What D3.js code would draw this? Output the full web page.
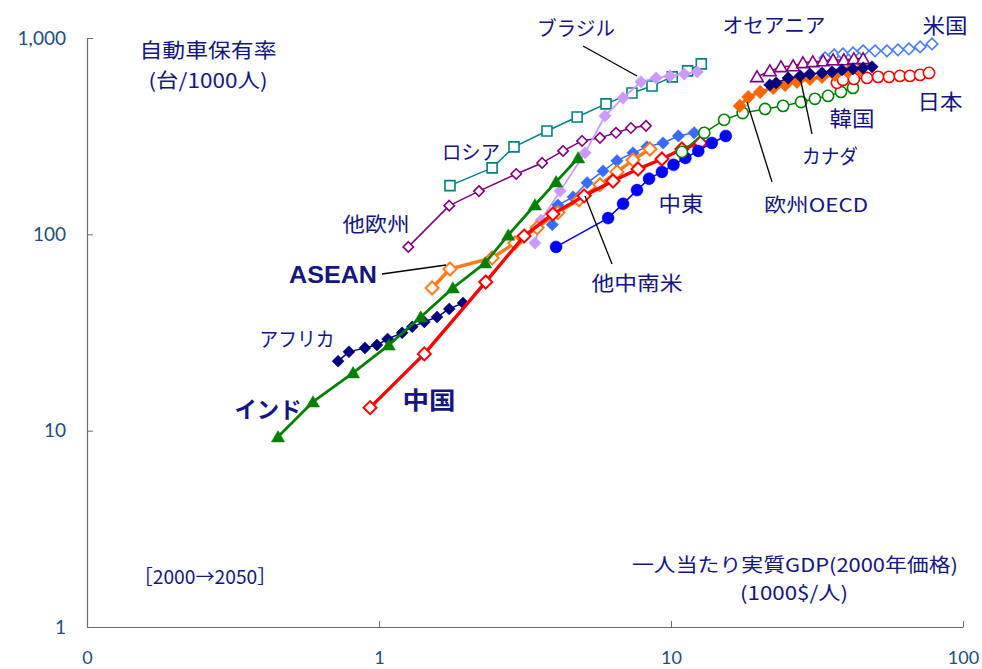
<!DOCTYPE html>
<html lang="ja">
<head>
<meta charset="utf-8">
<script src="https://cdn.jsdelivr.net/npm/d3@7"></script>
<style>
  html, body { margin: 0; padding: 0; background: #fff; }
  svg { display: block; }
</style>
</head>
<body>
<svg id="chart" width="982" height="669"></svg>
<script>
// Per-capita real GDP (1000 $/person, 2000 prices) vs. cars per 1000 people, 2000 → 2050 (5-year steps)
const years = [2000, 2005, 2010, 2015, 2020, 2025, 2030, 2035, 2040, 2045, 2050];

const india = [[0.451, 9.3], [0.594, 14.0], [0.815, 19.7], [1.08, 27.3], [1.39, 37.9], [1.79, 53.3],
               [2.31, 71.5], [2.77, 99], [3.42, 141], [4.04, 185], [4.81, 245]];
const china = [[0.932, 13.1], [1.43, 24.6], [2.32, 57.2], [3.14, 98], [3.94, 127], [5.04, 157],
               [6.33, 187], [7.71, 215], [9.31, 242], [10.9, 272], [12.6, 292]];
const asean = [[1.52, 53.3], [1.75, 66.6], [2.44, 75.8], [2.92, 90.4], [3.48, 108], [4.10, 129],
               [4.84, 150], [5.71, 179], [6.53, 208], [7.41, 239], [8.47, 272]];
const africa = [[0.724, 22.6], [0.789, 25.2], [0.895, 26.4], [0.984, 27.3], [1.07, 29.3], [1.20, 31.5],
                [1.30, 33.8], [1.43, 35.8], [1.58, 37.9], [1.74, 41.7], [1.94, 44.7]];
const otherEurope = [[1.26, 86.3], [1.74, 140], [2.20, 166], [2.95, 203], [3.62, 231], [4.27, 266],
                     [4.96, 299], [5.71, 310], [6.48, 329], [7.29, 348], [8.21, 357]];
const russia = [[1.75, 177], [2.44, 218], [2.90, 279], [3.76, 336], [4.77, 396], [5.99, 462],
                [7.35, 525], [8.61, 570], [10.1, 634], [11.4, 680], [12.7, 738]];
const brazil = [[3.42, 90.4], [3.59, 118], [4.17, 166], [5.08, 260], [5.94, 401], [6.85, 495],
                [7.89, 598], [8.89, 626], [9.93, 641], [11.1, 656], [12.3, 672]];
const otherLatAm = [[3.92, 112], [4.10, 141], [4.62, 155], [5.16, 183], [5.85, 210], [6.53, 237],
                    [7.41, 260], [8.27, 279], [9.39, 292], [10.6, 317], [12.0, 329]];
const middleEast = [[4.04, 86.3], [6.09, 121], [6.85, 143], [7.65, 168], [8.41, 192], [9.31, 208],
                    [10.2, 226], [11.2, 245], [12.4, 266], [13.8, 292], [15.4, 317]];
const korea = [[10.9, 263], [13.0, 329], [15.2, 383], [17.6, 415], [21.0, 435], [24.2, 451],
               [27.9, 472], [31.1, 490], [34.5, 507], [38.2, 531], [42.0, 557]];
const oecdEurope = [[17.2, 451], [18.4, 501], [20.2, 531], [22.4, 557], [24.6, 577], [27.0, 598],
                    [29.9, 619], [32.9, 634], [36.4, 649], [40.4, 672], [44.4, 688]];
const canada = [[21.8, 577], [22.9, 591], [25.2, 626], [27.7, 641], [29.9, 656], [32.9, 664],
                [35.6, 672], [38.5, 688], [42.0, 696], [45.5, 704], [48.8, 713]];
const oceania = [[19.7, 634], [21.8, 680], [23.8, 713], [26.2, 721], [28.3, 747], [30.6, 756],
                 [33.2, 764], [35.9, 773], [39.1, 773], [42.3, 783], [45.5, 783]];
const usa = [[33.7, 792], [36.2, 820], [38.8, 829], [42.0, 839], [45.5, 860], [50.0, 860],
             [54.9, 860], [59.9, 870], [65.3, 880], [71.3, 901], [78.3, 933]];
const japan = [[37.0, 591], [38.8, 612], [42.3, 619], [46.9, 626], [51.2, 634], [55.8, 634],
               [60.8, 641], [65.8, 641], [71.3, 649], [76.5, 664]];

const xTicks = [0.1, 1, 10, 100];
const xTickLabels = ["0", "1", "10", "100"];
const yTicks = [1, 10, 100, 1000];
const yTickLabels = ["1", "10", "100", "1,000"];

// ---- drawing setup ----
const svg = d3.select("#chart");
const W = 982, H = 669;
const margin = { left: 87, right: 19, top: 38, bottom: 42 };

const x = d3.scaleLog().domain([0.1, 100]).range([margin.left, W - margin.right]);
const y = d3.scaleLog().domain([1, 1000]).range([H - margin.bottom, margin.top]);

const JP = "'Noto Sans CJK JP', 'Noto Sans', sans-serif";
const NAVY_TEXT = "#15157f";

// axes
const xAxis = d3.axisBottom(x)
  .tickValues(xTicks)
  .tickFormat((d, i) => xTickLabels[i])
  .tickSizeInner(-6).tickSizeOuter(0).tickPadding(24);
const yAxis = d3.axisLeft(y)
  .tickValues(yTicks)
  .tickFormat((d, i) => yTickLabels[i])
  .tickSizeInner(-6).tickSizeOuter(0).tickPadding(21);

function styleAxis(g, size) {
  g.select(".domain").attr("stroke", "#6b6b6b").attr("stroke-width", 1.2);
  g.selectAll(".tick line").attr("stroke", "#6b6b6b").attr("stroke-width", 1);
  g.selectAll(".tick text")
    .attr("fill", "#1f4e79")
    .style("font-family", "Lato, 'Open Sans', sans-serif")
    .style("font-size", size + "px");
}

svg.append("g").attr("transform", `translate(0,${y(1)})`).call(xAxis).call(styleAxis, 18);
svg.append("g").attr("transform", `translate(${x(0.1)},0)`).call(yAxis).call(styleAxis, 19);

// marker shapes
const diamond = r => `M0,${-r}L${r},0L0,${r}L${-r},0Z`;
const triangle = r => `M0,${-r}L${r * 1.05},${r * 0.8}L${-r * 1.05},${r * 0.8}Z`;
const square = r => `M${-r},${-r}H${r}V${r}H${-r}Z`;

// series styles, in drawing order (later ones on top)
const series = [
  { data: otherEurope, color: "#800080", width: 1.5, shape: "diamond", r: 5.2, open: true },
  { data: russia, color: "#008080", width: 1.5, shape: "square", r: 5, open: true },
  { data: brazil, color: "#cc99ff", width: 1.8, shape: "diamond", r: 6.2, open: false },
  { data: africa, color: "#000080", width: 1.5, shape: "diamond", r: 6, open: false },
  { data: otherLatAm, color: "#3a6bff", width: 1.5, shape: "diamond", r: 6.2, open: false },
  { data: asean, color: "#ff7a1a", width: 3.4, shape: "diamond", r: 6.5, open: true },
  { data: china, color: "#ff0000", width: 3.4, shape: "diamond", r: 6.5, open: true },
  { data: india, color: "#008000", width: 2.8, shape: "triangle", r: 6.3, open: false },
  { data: middleEast, color: "#0000ff", width: 1.5, shape: "circle", r: 6, open: false },
  { data: korea, color: "#008000", width: 1.5, shape: "circle", r: 5.6, open: true },
  { data: japan, color: "#ff0000", width: 1.5, shape: "circle", r: 5.6, open: true },
  { data: usa, color: "#4a7dff", width: 1.5, shape: "diamond", r: 5.8, open: true },
  { data: oecdEurope, color: "#ff6600", width: 3, shape: "diamond", r: 6.8, open: false },
  { data: oceania, color: "#800080", width: 1.5, shape: "triangle", r: 6, open: true },
  { data: canada, color: "#000080", width: 1.5, shape: "diamond", r: 6.2, open: false }
];

const line = d3.line().x(d => x(d[0])).y(d => y(d[1]));
const plot = svg.append("g");

series.forEach(s => {
  const g = plot.append("g");
  g.append("path")
    .attr("d", line(s.data))
    .attr("fill", "none")
    .attr("stroke", s.color)
    .attr("stroke-width", s.width)
    .attr("stroke-linejoin", "round");

  const pts = g.selectAll(".pt").data(s.data).enter();
  const fill = s.open ? "#ffffff" : s.color;
  const sw = s.open ? (s.width > 2 ? 2 : 1.6) : 0.5;
  if (s.shape === "circle") {
    pts.append("circle")
      .attr("cx", d => x(d[0])).attr("cy", d => y(d[1]))
      .attr("r", s.r)
      .attr("fill", fill).attr("stroke", s.color).attr("stroke-width", sw);
  } else {
    const path = s.shape === "diamond" ? diamond(s.r) : s.shape === "triangle" ? triangle(s.r) : square(s.r);
    pts.append("path")
      .attr("d", path)
      .attr("transform", d => `translate(${x(d[0])},${y(d[1])})`)
      .attr("fill", fill).attr("stroke", s.color).attr("stroke-width", sw)
      .attr("stroke-linejoin", "miter");
  }
});

// ---- annotations ----
const ann = svg.append("g");

// leader lines
const leaders = [
  [[382, 274], [446, 265]],   // ASEAN
  [[583, 46], [637, 76]],     // ブラジル
  [[612, 264], [585, 196]],   // 他中南米
  [[812, 134], [800, 77]],    // カナダ
  [[772, 182], [747, 102]]    // 欧州OECD
];
leaders.forEach(([a, b]) => {
  ann.append("line")
    .attr("x1", a[0]).attr("y1", a[1]).attr("x2", b[0]).attr("y2", b[1])
    .attr("stroke", "#000").attr("stroke-width", 1.3);
});

const labels = [
  { t: "自動車保有率", x: 208, y: 49, size: 20, w: 137 },
  { t: "(台/1000人)", x: 208, y: 79, size: 20, w: 119 },
  { t: "ブラジル", x: 576, y: 27, size: 20, w: 78 },
  { t: "オセアニア", x: 774, y: 24, size: 20, w: 103 },
  { t: "米国", x: 945, y: 24, size: 21, w: 45 },
  { t: "日本", x: 940, y: 100, size: 21, w: 45 },
  { t: "韓国", x: 852, y: 117, size: 21, w: 45 },
  { t: "カナダ", x: 830, y: 155, size: 20, w: 56 },
  { t: "欧州OECD", x: 816, y: 203, size: 19, w: 104 },
  { t: "中東", x: 681, y: 202, size: 21, w: 45 },
  { t: "他中南米", x: 637, y: 282, size: 20, w: 91 },
  { t: "ロシア", x: 471, y: 151, size: 20, w: 58 },
  { t: "他欧州", x: 376, y: 223, size: 20, w: 67 },
  { t: "アフリカ", x: 297, y: 338, size: 20, w: 75 },
  { t: "ASEAN", x: 333, y: 274, size: 24, w: 88, bold: true, font: "'Liberation Sans', Arial, sans-serif" },
  { t: "インド", x: 268, y: 408, size: 23, w: 67, bold: true },
  { t: "中国", x: 429, y: 398, size: 24, w: 53, bold: true },
  { t: "［2000→2050］", x: 205, y: 575, size: 19, w: 143 },
  { t: "一人当たり実質GDP(2000年価格)", x: 795, y: 563, size: 19, w: 326 },
  { t: "(1000$/人)", x: 794, y: 591, size: 19, w: 108 }
];

labels.forEach(l => {
  ann.append("text")
    .attr("x", l.x).attr("y", l.y)
    .attr("text-anchor", "middle")
    .attr("dominant-baseline", "central")
    .attr("textLength", l.w)
    .attr("lengthAdjust", "spacingAndGlyphs")
    .attr("fill", NAVY_TEXT)
    .style("font-family", l.font || JP)
    .style("font-size", l.size + "px")
    .style("font-weight", l.bold ? 700 : 400)
    .text(l.t);
});
</script>
</body>
</html>
